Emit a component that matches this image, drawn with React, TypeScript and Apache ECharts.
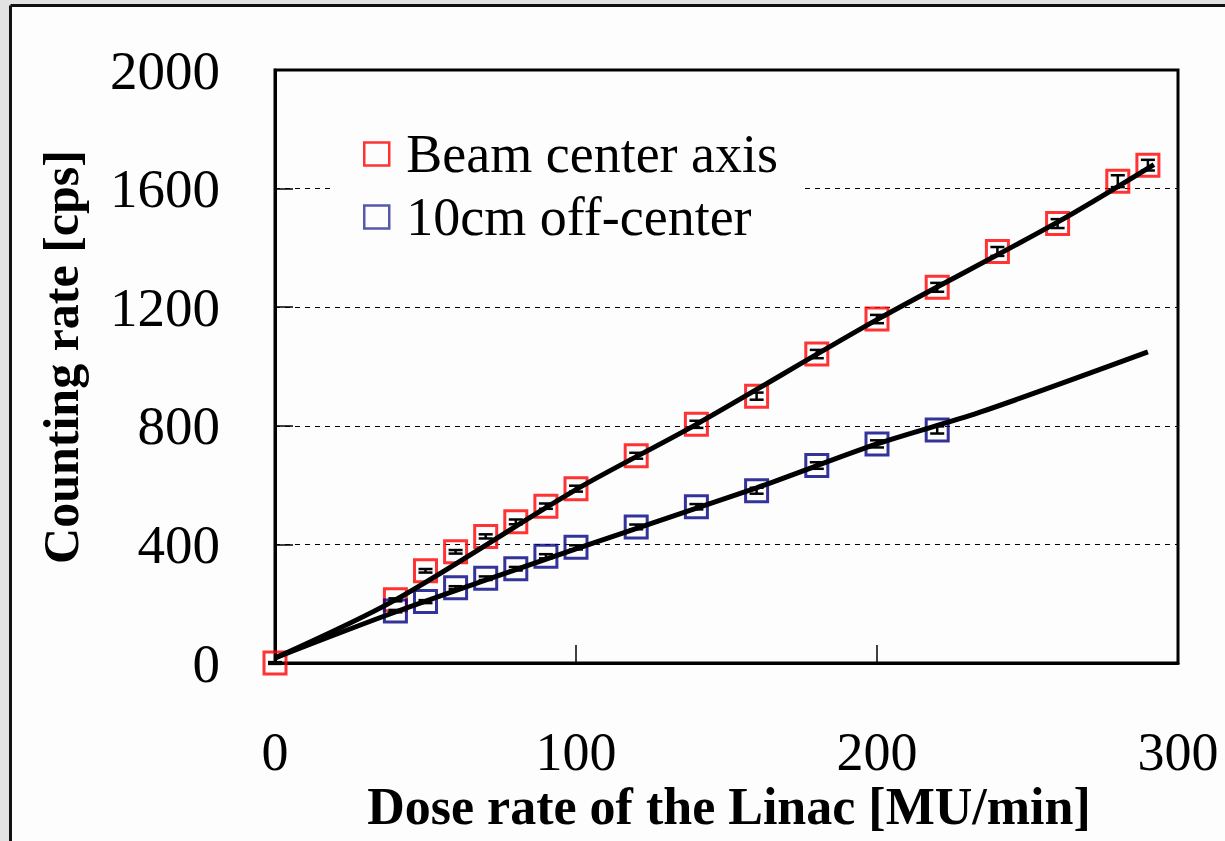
import React, { useEffect, useRef } from "react";
import * as echarts from "echarts";

// ---- data ----
const beamX = [0, 40, 50, 60, 70, 80, 90, 100, 120, 140, 160, 180, 200, 220, 240, 260, 280, 290];
const beamY = [0, 213, 311, 375, 427, 476, 529, 588, 699, 805, 900, 1042, 1160, 1267, 1388, 1482, 1625, 1679];
const beamErr = [3, 5, 6, 6, 7, 8, 9, 10, 10, 12, 12, 14, 14, 15, 15, 15, 20, 18];

const offX = [40, 50, 60, 70, 80, 90, 100, 120, 140, 160, 180, 200, 220];
const offY = [175, 207, 254, 286, 318, 360, 390, 459, 527, 581, 666, 739, 786];
const offErr = [4, 5, 5, 6, 6, 7, 7, 8, 9, 10, 11, 12, 12];

const fitBeamX = [0, 40, 100, 140, 200, 260, 292];
const fitBeamY = [17, 213, 585, 805, 1158, 1487, 1681];
const fitOffX = [0, 40, 100, 160, 200, 234, 290];
const fitOffY = [17, 172, 385, 591, 739, 845, 1049];

const xTicks = { min: 0, max: 300, interval: 100 };
const yTicks = { min: 0, max: 2000, interval: 400 };

const seriesNames = ["Beam center axis", "10cm off-center"];
const xTitle = "Dose rate of the Linac [MU/min]";
const yTitle = "Counting rate [cps]";

const RED = "#ff0000";
const BLUE = "#000080";
const SERIF = "'Liberation Serif', 'Times New Roman', serif";

function zip(xs: number[], ys: number[], es?: number[]) {
  return xs.map((x, i) => (es ? [x, ys[i], es[i]] : [x, ys[i]]));
}

function errorRender(params: any, api: any) {
  const x = api.value(0);
  const y = api.value(1);
  const e = api.value(2);
  const top = api.coord([x, y + e]);
  const bot = api.coord([x, y - e]);
  const half = 7;
  const style = { stroke: "#000", lineWidth: 2.5 };
  return {
    type: "group",
    children: [
      { type: "line", shape: { x1: top[0], y1: top[1], x2: bot[0], y2: bot[1] }, style },
      { type: "line", shape: { x1: top[0] - half, y1: top[1], x2: top[0] + half, y2: top[1] }, style },
      { type: "line", shape: { x1: bot[0] - half, y1: bot[1], x2: bot[0] + half, y2: bot[1] }, style },
    ],
  };
}

export default function App() {
  const ref = useRef<HTMLDivElement>(null);
  useEffect(() => {
    if (!ref.current) return;
    const chart = echarts.init(ref.current, null, { renderer: "svg" });
    chart.setOption({
      animation: false,
      backgroundColor: "#fdfdfd",
      graphic: [
        { type: "rect", shape: { x: 0, y: 0, width: 1225, height: 5 }, style: { fill: "#e2e2e2" }, silent: true },
        { type: "rect", shape: { x: 0, y: 0, width: 10, height: 841 }, style: { fill: "#e2e2e2" }, silent: true },
        { type: "line", shape: { x1: 10.5, y1: 5.5, x2: 1225, y2: 5.5 }, style: { stroke: "#111", lineWidth: 3 }, silent: true },
        { type: "line", shape: { x1: 10.5, y1: 5.5, x2: 10.5, y2: 841 }, style: { stroke: "#111", lineWidth: 3 }, silent: true },
        {
          type: "text",
          x: 729,
          y: 806,
          style: {
            text: xTitle,
            fontSize: 52,
            fontWeight: "bold",
            fontFamily: SERIF,
            fill: "#000",
            align: "center",
            verticalAlign: "middle",
          },
        },
        {
          type: "text",
          x: 61,
          y: 357,
          rotation: Math.PI / 2,
          style: {
            text: yTitle,
            fontSize: 50,
            fontWeight: "bold",
            fontFamily: SERIF,
            fill: "#000",
            align: "center",
            verticalAlign: "middle",
          },
        },
      ],
      grid: {
        left: 275,
        top: 70,
        width: 903,
        height: 593,
        show: true,
        borderColor: "#000",
        borderWidth: 3,
        backgroundColor: "transparent",
      },
      legend: {
        orient: "vertical",
        left: 335,
        top: 118,
        padding: [8, 25, 8, 28],
        backgroundColor: "#fdfdfd",
        itemWidth: 25,
        itemHeight: 23,
        itemGap: 7,
        textStyle: {
          fontSize: 54,
          fontFamily: SERIF,
          color: "#000",
          lineHeight: 56,
          padding: [0, 0, 0, 12],
        },
        data: [
          { name: seriesNames[0], icon: "rect", itemStyle: { color: "rgba(0,0,0,0)", borderColor: RED, borderWidth: 2.5 } },
          { name: seriesNames[1], icon: "rect", itemStyle: { color: "rgba(0,0,0,0)", borderColor: "#2e2e96", borderWidth: 2.5 } },
        ],
      },
      xAxis: {
        type: "value",
        min: xTicks.min,
        max: xTicks.max,
        interval: xTicks.interval,
        axisLine: { show: true, lineStyle: { color: "#000", width: 3 } },
        axisTick: { show: true, inside: true, length: 18, lineStyle: { color: "#000", width: 1.5 } },
        splitLine: { show: false },
        axisLabel: {
          fontSize: 54,
          lineHeight: 50,
          fontFamily: SERIF,
          color: "#000",
          margin: 64,
          formatter: (v: number) => String(v),
        },
      },
      yAxis: {
        type: "value",
        min: yTicks.min,
        max: yTicks.max,
        interval: yTicks.interval,
        axisLine: { show: true, lineStyle: { color: "#000", width: 3 } },
        axisTick: { show: true, inside: true, length: 18, lineStyle: { color: "#000", width: 1.5 } },
        splitLine: { show: true, lineStyle: { color: "#000", width: 1, type: [5, 5] } },
        axisLabel: {
          fontSize: 55,
          fontFamily: SERIF,
          color: "#000",
          margin: 55,
          formatter: (v: number) => String(v),
        },
      },
      series: [
        {
          name: seriesNames[0],
          type: "scatter",
          data: zip(beamX, beamY),
          symbol: "rect",
          symbolSize: 22,
          itemStyle: { color: "rgba(0,0,0,0)", borderColor: RED, borderWidth: 3 },
          z: 2,
        },
        {
          name: seriesNames[1],
          type: "scatter",
          data: zip(offX, offY),
          symbol: "rect",
          symbolSize: 22,
          itemStyle: { color: "rgba(0,0,0,0)", borderColor: BLUE, borderWidth: 3 },
          z: 2,
        },
        {
          name: "beamErr",
          type: "custom",
          renderItem: errorRender,
          data: zip(beamX, beamY, beamErr),
          encode: { x: 0, y: 1 },
          z: 3,
        },
        {
          name: "offErr",
          type: "custom",
          renderItem: errorRender,
          data: zip(offX, offY, offErr),
          encode: { x: 0, y: 1 },
          z: 3,
        },
        {
          name: "fitBeam",
          type: "line",
          data: zip(fitBeamX, fitBeamY),
          showSymbol: false,
          symbol: "none",
          smooth: 0.3,
          lineStyle: { color: "#000", width: 5 },
          z: 4,
        },
        {
          name: "fitOff",
          type: "line",
          data: zip(fitOffX, fitOffY),
          showSymbol: false,
          symbol: "none",
          smooth: 0.3,
          lineStyle: { color: "#000", width: 5 },
          z: 4,
        },
      ],
    });
    return () => chart.dispose();
  }, []);
  return (
    <div
      ref={ref}
      style={{ position: "fixed", left: 0, top: 0, width: 1225, height: 841 }}
    />
  );
}
